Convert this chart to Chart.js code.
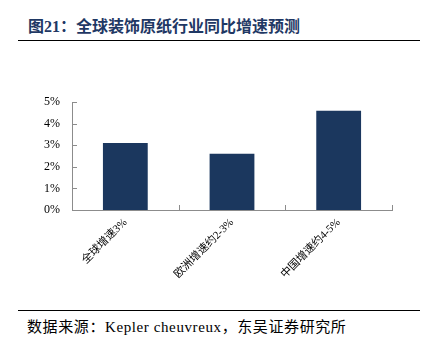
<!DOCTYPE html>
<html>
<head>
<meta charset="utf-8">
<script src="https://cdn.jsdelivr.net/npm/chart.js@4"></script>
<style>
  body { margin: 0; width: 425px; height: 352px; background: #fff; position: relative; overflow: hidden; }
  .title { position: absolute; left: 28px; top: 13px; font: bold 16px 'Liberation Serif', 'Noto Sans CJK SC', serif; color: #1f3864; white-space: nowrap; }
  .rule { position: absolute; left: 18px; width: 402px; height: 0; border-top: 1.5px solid #000; }
  .source { position: absolute; left: 27px; top: 315px; font: 15px 'Liberation Serif', 'Noto Sans CJK SC', serif; color: #000; white-space: nowrap; letter-spacing: 0.6px; }
  #wrap { position: absolute; left: 0; top: 90px; width: 425px; height: 210px; }
</style>
</head>
<body>
<div class="title">图21：全球装饰原纸行业同比增速预测</div>
<div class="rule" style="top:40px"></div>
<div id="wrap"><canvas id="myChart"></canvas></div>
<div class="rule" style="top:310px"></div>
<div class="source">数据来源：Kepler cheuvreux，东吴证券研究所</div>
<script>
// --- Data ---
const categories = ['全球增速3%', '欧洲增速约2-3%', '中国增速约4-5%'];
const growth = [3.1, 2.6, 4.6];
const yTicks = [0, 1, 2, 3, 4, 5];

const axisColor = '#8c8c8c';

// small inward tick marks, like the original
const innerTicks = {
    id: 'innerTicks',
    afterDraw(chart) {
        const { ctx, scales: { x, y } } = chart;
        ctx.save();
        ctx.strokeStyle = axisColor;
        ctx.lineWidth = 1;
        ctx.beginPath();
        yTicks.forEach(v => {
            const py = Math.round(y.getPixelForValue(v)) + 0.5;
            ctx.moveTo(x.left, py);
            ctx.lineTo(x.left + 5, py);
        });
        // category boundaries on the x axis
        for (let i = 0; i < categories.length; i++) {
            const px = Math.round(x.getPixelForValue(i + 0.5)) + 0.5;
            ctx.moveTo(px, y.bottom);
            ctx.lineTo(px, y.bottom - 5);
        }
        ctx.stroke();
        ctx.restore();
    }
};

const ctx = document.getElementById('myChart');

const myChart = new Chart(ctx, {
    type: 'bar',
    data: {
        labels: categories,
        datasets: [{
            data: growth,
            backgroundColor: '#1b375e',
            borderWidth: 0,
            categoryPercentage: 1,
            barPercentage: 0.42,
        }]
    },
    options: {
        responsive: true,
        maintainAspectRatio: false,
        animation: false,
        layout: { padding: { top: 12, right: 33, left: 0, bottom: 0 } },
        plugins: {
            legend: { display: false },
            tooltip: { enabled: false }
        },
        scales: {
            x: {
                grid: { display: false, drawTicks: false },
                border: { color: axisColor, width: 1 },
                ticks: {
                    color: '#000',
                    font: { family: "'Liberation Serif', 'Noto Sans CJK SC', serif", size: 11 },
                    minRotation: 45,
                    maxRotation: 45,
                    padding: 6,
                },
                afterFit(scale) { scale.height = 90; }
            },
            y: {
                min: 0,
                max: 5,
                grid: { display: false, drawTicks: false },
                border: { color: axisColor, width: 1 },
                afterBuildTicks(scale) { scale.ticks = yTicks.map(v => ({ value: v })); },
                ticks: {
                    color: '#000',
                    font: { family: "'Liberation Serif', serif", size: 12 },
                    padding: 12,
                    callback: v => v + '%'
                },
                // fixed axis width, no extra top/bottom padding from labels
                afterFit(scale) { scale.width = 72; scale.paddingTop = 0; scale.paddingBottom = 0; }
            }
        }
    },
    plugins: [innerTicks]
});
</script>
</body>
</html>
